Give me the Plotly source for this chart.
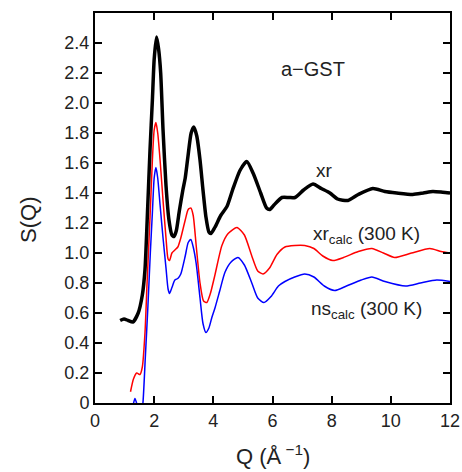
import plotly.graph_objects as go

# ---- data ----
q_xr = [0.85, 0.98, 1.12, 1.28, 1.46, 1.6, 1.69, 1.78, 1.86, 1.94, 2.0, 2.08, 2.15, 2.22, 2.3, 2.4,
        2.5, 2.6, 2.67, 2.75, 2.85, 2.97, 3.05, 3.14, 3.25, 3.34, 3.44, 3.55, 3.65, 3.75, 3.85, 3.92,
        4.05, 4.25, 4.46, 4.65, 4.9, 5.13, 5.35, 5.6, 5.8, 5.91, 6.05, 6.32, 6.55, 6.76, 7.05, 7.37,
        7.65, 7.94, 8.2, 8.55, 8.9, 9.39, 9.8, 10.2, 10.74, 11.1, 11.42, 11.75, 12.0]
s_xr = [0.55, 0.56, 0.55, 0.54, 0.6, 0.72, 0.89, 1.3, 1.69, 2.02, 2.29, 2.44, 2.36, 2.2, 1.82, 1.45,
        1.22, 1.12, 1.11, 1.15, 1.28, 1.42, 1.5, 1.64, 1.8, 1.84, 1.78, 1.62, 1.42, 1.24, 1.14, 1.13,
        1.17, 1.25, 1.31, 1.42, 1.55, 1.61, 1.53, 1.4, 1.3, 1.29, 1.32, 1.37, 1.37, 1.37, 1.42, 1.46,
        1.43, 1.4, 1.36, 1.35, 1.39, 1.43, 1.41, 1.40, 1.39, 1.40, 1.41, 1.405, 1.40]

q_xrcalc = [1.2, 1.3, 1.41, 1.52, 1.6, 1.69, 1.76, 1.86, 1.94, 2.0, 2.06, 2.12, 2.2, 2.3, 2.4, 2.47,
            2.52, 2.6, 2.7, 2.8, 2.9, 3.05, 3.15, 3.24, 3.32, 3.42, 3.55, 3.67, 3.78, 3.9, 4.05, 4.29,
            4.5, 4.8, 5.05, 5.3, 5.5, 5.68, 5.9, 6.15, 6.42, 6.75, 7.09, 7.4, 7.7, 8.04, 8.4, 8.9,
            9.36, 9.75, 10.13, 10.7, 11.32, 11.7, 12.0]
s_xrcalc = [0.075, 0.16, 0.2, 0.19, 0.24, 0.47, 0.8, 1.24, 1.62, 1.82, 1.87, 1.8, 1.62, 1.35, 1.1, 0.96,
            0.95, 1.0, 1.02, 1.04, 1.1, 1.22, 1.29, 1.30, 1.25, 1.05, 0.8, 0.68, 0.67, 0.73, 0.85, 1.05,
            1.13, 1.17, 1.12, 0.98, 0.88, 0.86, 0.9, 0.99, 1.04, 1.05, 1.05, 1.03, 0.98, 0.95, 0.97, 1.01,
            1.03, 1.0, 0.97, 1.0, 1.03, 1.01, 1.0]

q_nscalc = [1.2, 1.28, 1.35, 1.42, 1.5, 1.58, 1.62, 1.7, 1.79, 1.87, 1.94, 2.0, 2.06, 2.12, 2.2, 2.3,
            2.4, 2.47, 2.52, 2.6, 2.7, 2.8, 2.9, 3.05, 3.15, 3.24, 3.32, 3.42, 3.55, 3.65, 3.75, 3.85,
            3.95, 4.05, 4.22, 4.39, 4.6, 4.83, 5.05, 5.3, 5.5, 5.71, 5.95, 6.2, 6.42, 6.75, 7.09, 7.4,
            7.75, 8.1, 8.5, 9.0, 9.36, 9.8, 10.5, 11.0, 11.55, 12.0]
s_nscalc = [-0.1, -0.02, 0.03, -0.01, -0.08, -0.05, 0.0, 0.3, 0.65, 1.0, 1.27, 1.5, 1.57, 1.5, 1.32, 1.1,
            0.9, 0.76, 0.73, 0.77, 0.82, 0.83, 0.86, 0.98, 1.07, 1.09, 1.04, 0.93, 0.7, 0.53, 0.47, 0.5,
            0.57, 0.63, 0.75, 0.87, 0.94, 0.97, 0.92, 0.8, 0.7, 0.67, 0.71, 0.78, 0.81, 0.84, 0.86, 0.84,
            0.78, 0.75, 0.78, 0.82, 0.84, 0.81, 0.78, 0.8, 0.82, 0.81]

x_ticks = [0, 2, 4, 6, 8, 10, 12]
x_ticklabels = ["0", "2", "4", "6", "8", "10", "12"]
y_ticks = [0, 0.2, 0.4, 0.6, 0.8, 1.0, 1.2, 1.4, 1.6, 1.8, 2.0, 2.2, 2.4]
y_ticklabels = ["0", "0.2", "0.4", "0.6", "0.8", "1.0", "1.2", "1.4", "1.6", "1.8", "2.0", "2.2", "2.4"]

FONT = "Liberation Sans, Arial, Helvetica, sans-serif"
TXT = "#222222"

fig = go.Figure()
fig.add_trace(go.Scatter(x=q_xrcalc, y=s_xrcalc, mode="lines", name="xr calc",
                         line=dict(color="#ff0000", width=1.5, shape="spline", smoothing=0.6)))
fig.add_trace(go.Scatter(x=q_nscalc, y=s_nscalc, mode="lines", name="ns calc",
                         line=dict(color="#0000ff", width=1.5, shape="spline", smoothing=0.6)))
fig.add_trace(go.Scatter(x=q_xr, y=s_xr, mode="lines", name="xr",
                         line=dict(color="#000000", width=3.5, shape="spline", smoothing=0.6)))

axis_common = dict(showgrid=False, zeroline=False, showline=True, linecolor="#000000", linewidth=2,
                   mirror="ticks", ticks="inside", ticklen=7, tickwidth=2, tickcolor="#000000",
                   automargin=False,
                   tickfont=dict(family=FONT, size=18, color=TXT))

fig.update_xaxes(range=[0, 12], tickvals=x_ticks, ticktext=x_ticklabels, **axis_common)
fig.update_yaxes(range=[0, 2.6], tickvals=y_ticks, ticktext=y_ticklabels, **axis_common)

fig.update_layout(
    width=462, height=472, autosize=False,
    margin=dict(l=95, r=12, t=13, b=69, autoexpand=False),
    paper_bgcolor="white", plot_bgcolor="white",
    showlegend=False,
    font=dict(family=FONT, color=TXT),
    annotations=[
        dict(x=7.36, y=2.23, xref="x", yref="y", text="a\u2212GST", showarrow=False,
             font=dict(size=20, family=FONT, color=TXT)),
        dict(x=7.77, y=1.55, xref="x", yref="y", text="xr", showarrow=False,
             font=dict(size=19, family=FONT, color=TXT)),
        dict(x=7.3, y=1.12, xref="x", yref="y", text="xr<sub>calc</sub> (300 K)", showarrow=False,
             xanchor="left", font=dict(size=19, family=FONT, color=TXT)),
        dict(x=7.23, y=0.62, xref="x", yref="y", text="ns<sub>calc</sub> (300 K)", showarrow=False,
             xanchor="left", font=dict(size=19, family=FONT, color=TXT)),
        dict(x=0.5, y=-0.133, xref="paper", yref="paper", text="Q (\u00c5<sup> \u22121</sup>)",
             showarrow=False, yanchor="middle", font=dict(size=22, family=FONT, color=TXT)),
        dict(x=-0.188, y=0.47, xref="paper", yref="paper", text="S(Q)", textangle=-90,
             showarrow=False, xanchor="center", font=dict(size=22, family=FONT, color=TXT)),
    ],
)

fig.write_html("out.html", config={"displayModeBar": False, "responsive": False},
               post_script="document.body.style.margin='0';document.body.style.padding='0';"
                           "document.body.style.overflow='hidden';")
